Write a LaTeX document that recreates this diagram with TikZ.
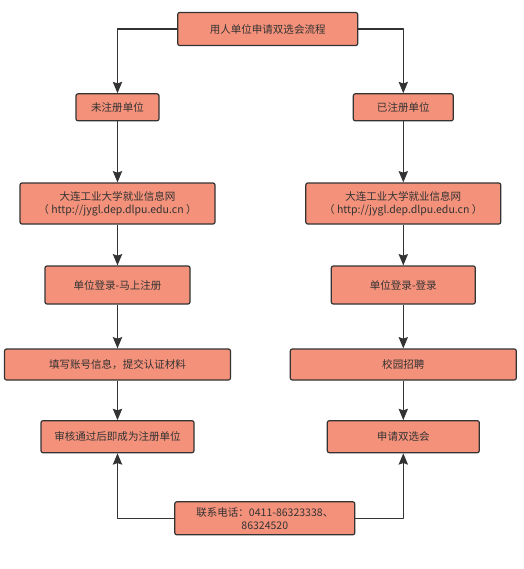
\documentclass[tikz,border=0pt]{standalone}
\usepackage{fontspec}
\setmainfont{Noto Sans CJK SC}
\usetikzlibrary{arrows.meta}
\definecolor{boxfill}{HTML}{F4917A}
\definecolor{boxline}{HTML}{333333}
\tikzset{
  box/.style={draw=boxline, fill=boxfill, rounded corners=1.5pt, line width=0.9pt,
    text=boxline, inner sep=0pt, align=center},
  link/.style={draw=boxline, line width=0.9pt, ->}
}
\begin{document}
\begin{tikzpicture}[x=0.75pt, y=-0.75pt, font=\fontsize{7.9}{9.8}\selectfont, line join=round,
  >={Stealth[length=8.5pt, width=7pt, inset=1.2pt]}]
\useasboundingbox (0,0) rectangle (524,569);
% top of the flow
\node[box, minimum width=135pt, minimum height=24.75pt] (start) at (267.7,29) {用人单位申请双选会流程};
% left column: not yet registered
\node[box, minimum width=62.25pt, minimum height=20.25pt] (unreg) at (117.5,107.3) {未注册单位};
\node[box, minimum width=146.25pt, minimum height=30.75pt] (webL) at (117.5,203.5) {大连工业大学就业信息网\\（ http://jygl.dep.dlpu.edu.cn ）};
\node[box, minimum width=108.75pt, minimum height=28.5pt] (signup) at (117.5,285) {单位登录-马上注册};
\node[box, minimum width=169.5pt, minimum height=23.25pt] (fill) at (117.5,364.5) {填写账号信息，提交认证材料};
\node[box, minimum width=114.75pt, minimum height=24pt] (check) at (117.5,436.7) {审核通过后即成为注册单位};
% right column: already registered
\node[box, minimum width=75pt, minimum height=20.25pt] (reg) at (403.3,107.3) {已注册单位};
\node[box, minimum width=146.25pt, minimum height=30.75pt] (webR) at (403.3,203.5) {大连工业大学就业信息网\\（ http://jygl.dep.dlpu.edu.cn ）};
\node[box, minimum width=108pt, minimum height=28.5pt] (login) at (403.3,285) {单位登录-登录};
\node[box, minimum width=169.5pt, minimum height=23.25pt] (campus) at (403.3,364.5) {校园招聘};
\node[box, minimum width=114pt, minimum height=24pt] (apply) at (403.3,436.7) {申请双选会};
% contact
\node[box, minimum width=135pt, minimum height=24.75pt] (phone) at (264.8,518.3) {联系电话：0411-86323338、\\86324520};
% connectors
\draw[link] (start.west) -| (unreg.north);
\draw[link] (start.east) -| (reg.north);
\draw[link] (unreg) -- (webL);
\draw[link] (webL) -- (signup);
\draw[link] (signup) -- (fill);
\draw[link] (fill) -- (check);
\draw[link] (reg) -- (webR);
\draw[link] (webR) -- (login);
\draw[link] (login) -- (campus);
\draw[link] (campus) -- (apply);
\draw[link] (phone.west) -| (check.south);
\draw[link] (phone.east) -| (apply.south);
\end{tikzpicture}
\end{document}
